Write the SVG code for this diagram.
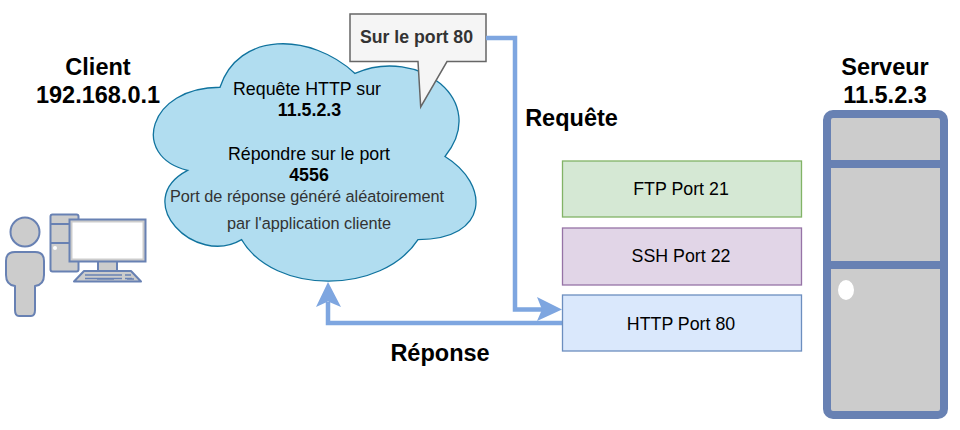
<svg xmlns="http://www.w3.org/2000/svg" width="960" height="430" viewBox="0 0 960 430">
<style>
text{font-family:"Liberation Sans",Arial,sans-serif;text-anchor:middle;fill:#000}
.h{font-size:23.5px;font-weight:bold}
.t{font-size:17.800px}
.b{font-size:17.800px;font-weight:bold}
.g{font-size:16.300px;fill:#333}
.eq{stroke:#6881b3;stroke-width:2;fill:#ccc;stroke-linejoin:round}
.ln{fill:none;stroke:#7ea6e0;stroke-width:4.500}
.ah{fill:#7ea6e0}
</style>
<rect width="960" height="430" fill="#fff"/>
<g id="client-label"><text class="h" x="98" y="75">Client</text><text class="h" x="98" y="103">192.168.0.1</text></g>
<g id="server-label"><text class="h" x="885" y="75">Serveur</text><text class="h" x="885" y="103">11.5.2.3</text></g>
<g id="cloud">
<path d="M220 87.25C148 87.25 130 156.5 187.6 170.35C130 200.8 194.8 267.3 241.6 239.6C274 295 382 295 418 239.6C490 239.6 490 184.2 445 156.5C490 101.1 418 45.7 355 73.4C310 31.85 238 31.85 220 87.25Z" fill="#b1ddf0" stroke="#10739e" stroke-width="1.3"/>
<text class="t" x="307" y="95">Requête HTTP sur</text>
<text class="b" x="309.500" y="116">11.5.2.3</text>
<text class="t" x="309" y="160">Répondre sur le port</text>
<text class="b" x="309" y="181">4556</text>
<text class="g" x="307" y="202">Port de réponse généré aléatoirement</text>
<text class="g" x="309" y="229">par l'application cliente</text>
</g>
<g id="callout">
<path d="M350 14H486V61.5H447L420.7 107L418 61.5H350Z" fill="#f5f5f5" stroke="#666" stroke-width="1.5"/>
<text x="416.500" y="43" style="font-size:17.700px;font-weight:bold;fill:#333">Sur le port 80</text>
</g>
<g id="connectors">
<path class="ln" d="M486 38H515V309.500H542"/>
<path class="ah" d="M562 309.500L537 321L542 309.500L537 297Z"/>
<path class="ln" d="M562 323H328V302"/>
<path class="ah" d="M328 282L341 307L328 301.500L316 307Z"/>
</g>
<text class="h" x="571.500" y="126" id="label-requete">Requête</text>
<text class="h" x="440" y="361" id="label-reponse">Réponse</text>
<g id="ftp"><rect x="562.500" y="161" width="239" height="56" fill="#d5e8d4" stroke="#82b366" stroke-width="1.3"/><text class="t" x="681" y="195">FTP Port 21</text></g>
<g id="ssh"><rect x="562.500" y="228" width="239" height="57" fill="#e1d5e7" stroke="#9673a6" stroke-width="1.3"/><text class="t" x="681" y="262">SSH Port 22</text></g>
<g id="http"><rect x="562.500" y="295" width="239" height="56" fill="#dae8fc" stroke="#6c8ebf" stroke-width="1.3"/><text class="t" x="681" y="330">HTTP Port 80</text></g>
<g id="user-computer">
<rect class="eq" x="50.500" y="214.500" width="28" height="57" rx="2"/>
<path d="M51 224H70M51 243H70" fill="none" stroke="#6881b3" stroke-width="2"/>
<circle cx="55" cy="248" r="2" fill="#fff"/>
<rect class="eq" x="98" y="261" width="19" height="10" stroke-width="1"/>
<path class="eq" d="M74 281.500L84 271H131L141 281.500Z"/>
<path d="M85 275H122M125 275H131M85 278.500H122M125 278.500H132M97 279H114M127 279H134" fill="none" stroke="#6881b3" stroke-width="1.500"/>
<rect x="69.500" y="219.500" width="76" height="42" fill="#ccc" stroke="#6881b3" stroke-width="2"/>
<rect x="72.500" y="222.500" width="70" height="36" fill="#fff"/>
<circle class="eq" cx="25" cy="232" r="14.500"/>
<path class="eq" d="M15 252H35Q44 252 44 261V275Q44 285 35 286V310Q35 316 31 316H19Q15 316 15 310V286Q6 285 6 275V261Q6 252 15 252Z"/>
</g>
<g id="server">
<rect x="827" y="114" width="117" height="301" rx="6" fill="#ccc" stroke="#6881b3" stroke-width="8"/>
<path d="M827 164H944M827 265H944" fill="none" stroke="#6881b3" stroke-width="8"/>
<ellipse cx="846" cy="290" rx="8" ry="10" fill="#fff"/>
</g>
</svg>
